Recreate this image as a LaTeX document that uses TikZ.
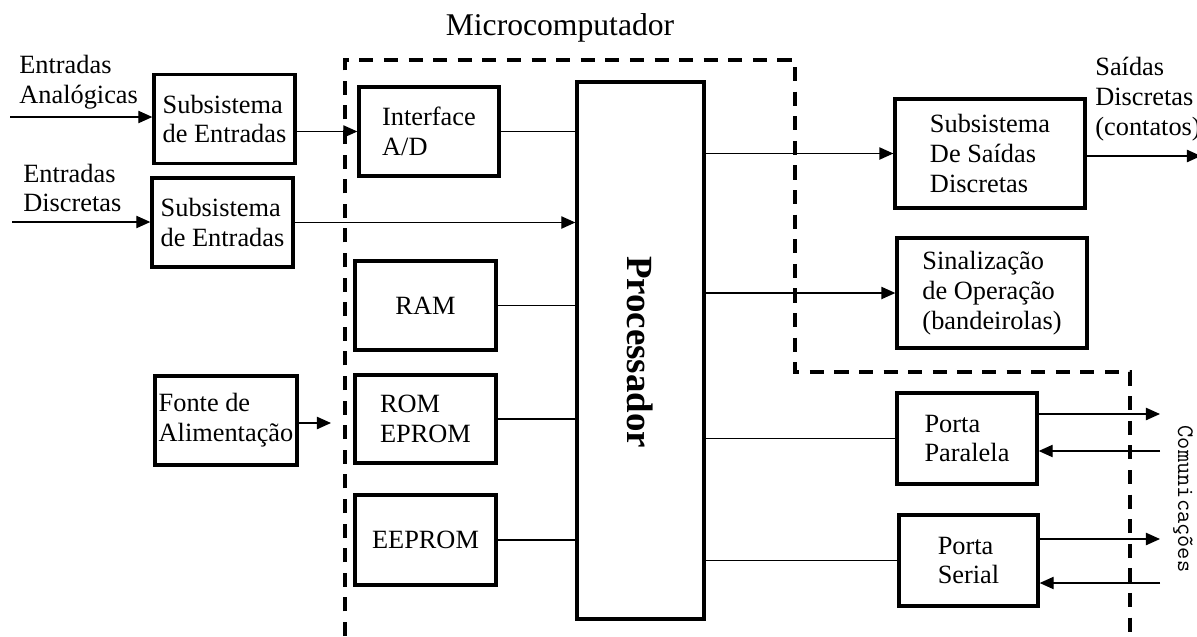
\documentclass[tikz,border=0pt]{standalone}
\usepackage{fontspec}
\setmainfont{Liberation Serif}
\usetikzlibrary{arrows.meta}

\begin{document}
\begin{tikzpicture}[x=0.02cm, y=-0.02cm, >={Triangle[length=8pt,width=7pt]}, every node/.style={font=\fontsize{15pt}{17pt}\selectfont}]
\tikzstyle{block}=[rectangle, draw, line width=1.9pt, align=left, inner sep=1pt, minimum width=2.82cm, minimum height=1.78cm]
\tikzstyle{wire}=[line width=0.8pt]
\tikzstyle{lbl}=[align=left, inner sep=0pt, anchor=west]
\useasboundingbox (0,0) rectangle (1197,636);
\draw[line width=1.9pt, dash pattern=on 8pt off 6pt] (345,636) -- (345,60) -- (795,60) -- (795,372) -- (1130,372) -- (1130,636);
\node[font=\fontsize{18pt}{20pt}\selectfont] (title) at (560,28) {Microcomputador};
\node[block] (subana) at (224.5,119) {Subsistema\\de Entradas};
\node[block] (subdig) at (222.5,222.5) {Subsistema\\de Entradas};
\node[block, minimum width=2.84cm] (fonte) at (226,420.5) {Fonte de\\Alimentação};
\node[block, minimum width=2.8cm] (iface) at (429,131.5) {Interface\\A/D};
\node[block] (ram) at (425.5,305.5) {RAM};
\node[block, minimum height=1.76cm] (rom) at (425.5,419) {ROM\\EPROM};
\node[block, minimum height=1.8cm] (eeprom) at (425.5,540) {EEPROM};
\node[block, minimum width=2.54cm, minimum height=10.74cm] (proc) at (640.5,350.5) {};
\node[rotate=-90, font=\fontsize{21pt}{24pt}\selectfont\bfseries] (proclbl) at (640,352) {Processador};
\node[block, minimum width=3.8cm, minimum height=2.18cm] (saidas) at (990,153.5) {Subsistema\\De Saídas\\Discretas};
\node[block, minimum width=3.8cm, minimum height=2.2cm] (sinal) at (992,293) {Sinalização\\de Operação\\(bandeirolas)};
\node[block, minimum width=2.8cm, minimum height=1.82cm] (par) at (967,438.5) {Porta\\Paralela};
\node[block, minimum width=2.78cm, minimum height=1.82cm] (ser) at (968.5,560.5) {Porta\\Serial};
\node[lbl] (analbl) at (19,82) {Entradas\\Analógicas};
\node[lbl] (diglbl) at (23,188) {Entradas\\Discretas};
\node[lbl] (outlbl) at (1095,99) {Saídas\\Discretas\\(contatos)};
\node[rotate=-90, font=\ttfamily\fontsize{13.5pt}{15pt}\selectfont] (comlbl) at (1183,499) {Comunicações};
\coordinate (ain) at (10,117);
\coordinate (din) at (12,222);
\coordinate (vcc) at (331,423);
\coordinate (dout) at (1201,156);
\coordinate (p1) at (1160,414);
\coordinate (p2) at (1160,451);
\coordinate (s1) at (1160,539);
\coordinate (s2) at (1160,583);
\draw[wire,->] (ain) -- (ain -| subana.west);
\draw[wire,->] (din) -- (din -| subdig.west);
\draw[wire,->] (subana.east |- iface.west) -- (iface.west);
\draw[wire] (iface.east) -- (iface.east -| proc.west);
\draw[wire,->] (subdig.east) -- (subdig.east -| proc.west);
\draw[wire] (ram.east) -- (ram.east -| proc.west);
\draw[wire] (rom.east) -- (rom.east -| proc.west);
\draw[wire] (eeprom.east) -- (eeprom.east -| proc.west);
\draw[wire,->] (fonte.east |- vcc) -- (vcc);
\draw[wire,->] (proc.east |- saidas.west) -- (saidas.west);
\draw[wire,->] (proc.east |- sinal.west) -- (sinal.west);
\draw[wire] (proc.east |- par.west) -- (par.west);
\draw[wire] (proc.east |- ser.west) -- (ser.west);
\draw[wire,->] (saidas.east |- dout) -- (dout);
\draw[wire,->] (par.east |- p1) -- (p1);
\draw[wire,->] (p2) -- (par.east |- p2);
\draw[wire,->] (ser.east |- s1) -- (s1);
\draw[wire,->] (s2) -- (ser.east |- s2);
\end{tikzpicture}
\end{document}
